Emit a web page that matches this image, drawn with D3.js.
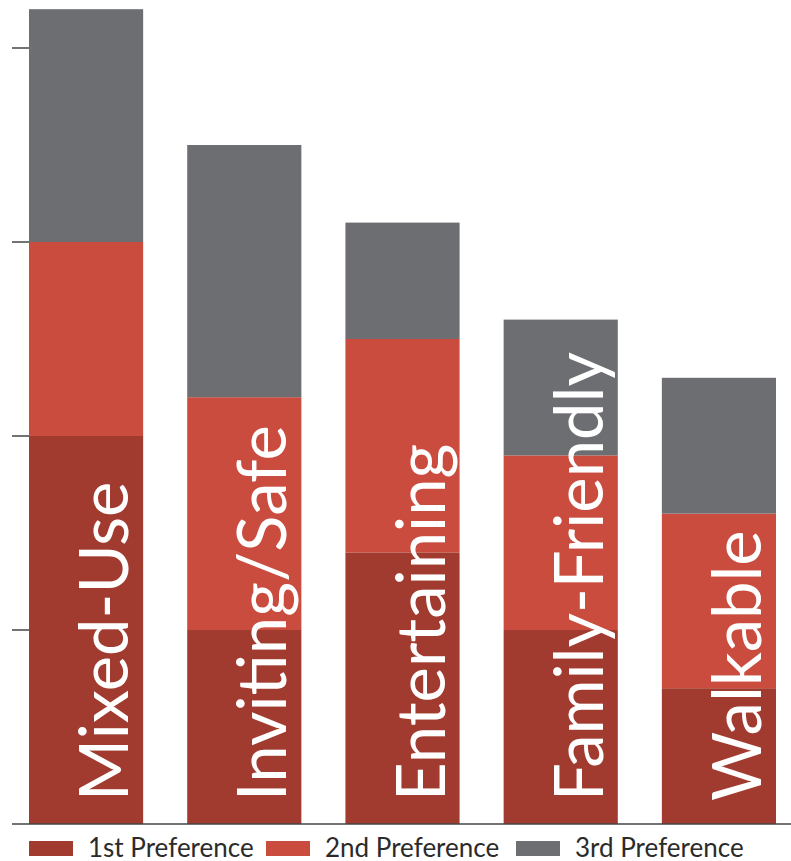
<!DOCTYPE html>
<html>
<head>
  <meta charset="utf-8">
  <script src="https://d3js.org/d3.v7.min.js"></script>
  <style>
      body { margin: 0; background: #fff; }
      svg { display: block; }
  </style>
</head>
<body>
<script>
var width = 791, height = 861;

// survey data
var categories = ["Mixed-Use", "Inviting/Safe", "Entertaining", "Family-Friendly", "Walkable"];
var series = ["1st Preference", "2nd Preference", "3rd Preference"];
var first  = [20, 10, 14, 10, 7];
var second = [10, 12, 11, 9, 9];
var third  = [12, 13, 6, 7, 7];
var yTicks = [10, 20, 30, 40];
var colors = ["#a23b2f", "#c94c3e", "#6d6e72"];

var rows = categories.map(function(c, i) {
  return {cat: c, "1st Preference": first[i], "2nd Preference": second[i], "3rd Preference": third[i]};
});
var stacked = d3.stack().keys(series)(rows);

var x = d3.scaleBand()
    .domain(categories)
    .range([29, 776])
    .paddingInner(44 / 158)
    .paddingOuter(0);

var y = d3.scaleLinear()
    .domain([0, 40])
    .range([824, 48]);

var color = d3.scaleOrdinal().domain(series).range(colors);

var svg = d3.select("body").append("svg")
    .attr("width", width)
    .attr("height", height);

// bars
svg.append("g")
  .selectAll("g")
  .data(stacked)
  .join("g")
    .attr("fill", function(d) { return color(d.key); })
  .selectAll("rect")
  .data(function(d) { return d; })
  .join("rect")
    .attr("x", function(d) { return x(d.data.cat); })
    .attr("y", function(d) { return y(d[1]); })
    .attr("width", x.bandwidth())
    .attr("height", function(d) { return y(d[0]) - y(d[1]); });

// y ticks, no axis line
svg.append("g")
  .selectAll("line")
  .data(yTicks)
  .join("line")
    .attr("x1", 12)
    .attr("x2", 29)
    .attr("y1", function(d) { return y(d); })
    .attr("y2", function(d) { return y(d); })
    .attr("stroke", "#444")
    .attr("stroke-width", 1.5);

// baseline
svg.append("line")
    .attr("x1", 12).attr("x2", width)
    .attr("y1", y(0)).attr("y2", y(0))
    .attr("stroke", "#444")
    .attr("stroke-width", 1.5);

// rotated category labels inside bars
svg.append("g")
  .selectAll("text")
  .data(categories)
  .join("text")
    .attr("transform", function(d) {
      return "translate(" + (x(d) + x.bandwidth() / 2 + 42) + ",801) rotate(-90)";
    })
    .attr("fill", "#fff")
    .style("font-family", "Lato, sans-serif")
    .style("font-size", "67px")
    .text(function(d) { return d; });

// legend
var legendX = [29, 266, 516];
var legend = svg.append("g")
  .selectAll("g")
  .data(series)
  .join("g")
    .attr("transform", function(d, i) { return "translate(" + legendX[i] + ",0)"; });

legend.append("rect")
    .attr("y", 841)
    .attr("width", 44)
    .attr("height", 15)
    .attr("fill", function(d) { return color(d); });

legend.append("text")
    .attr("x", 59)
    .attr("y", 857)
    .attr("fill", "#2b2b2b")
    .style("font-family", "Lato, sans-serif")
    .style("font-size", "26px")
    .text(function(d) { return d; });
</script>
</body>
</html>
